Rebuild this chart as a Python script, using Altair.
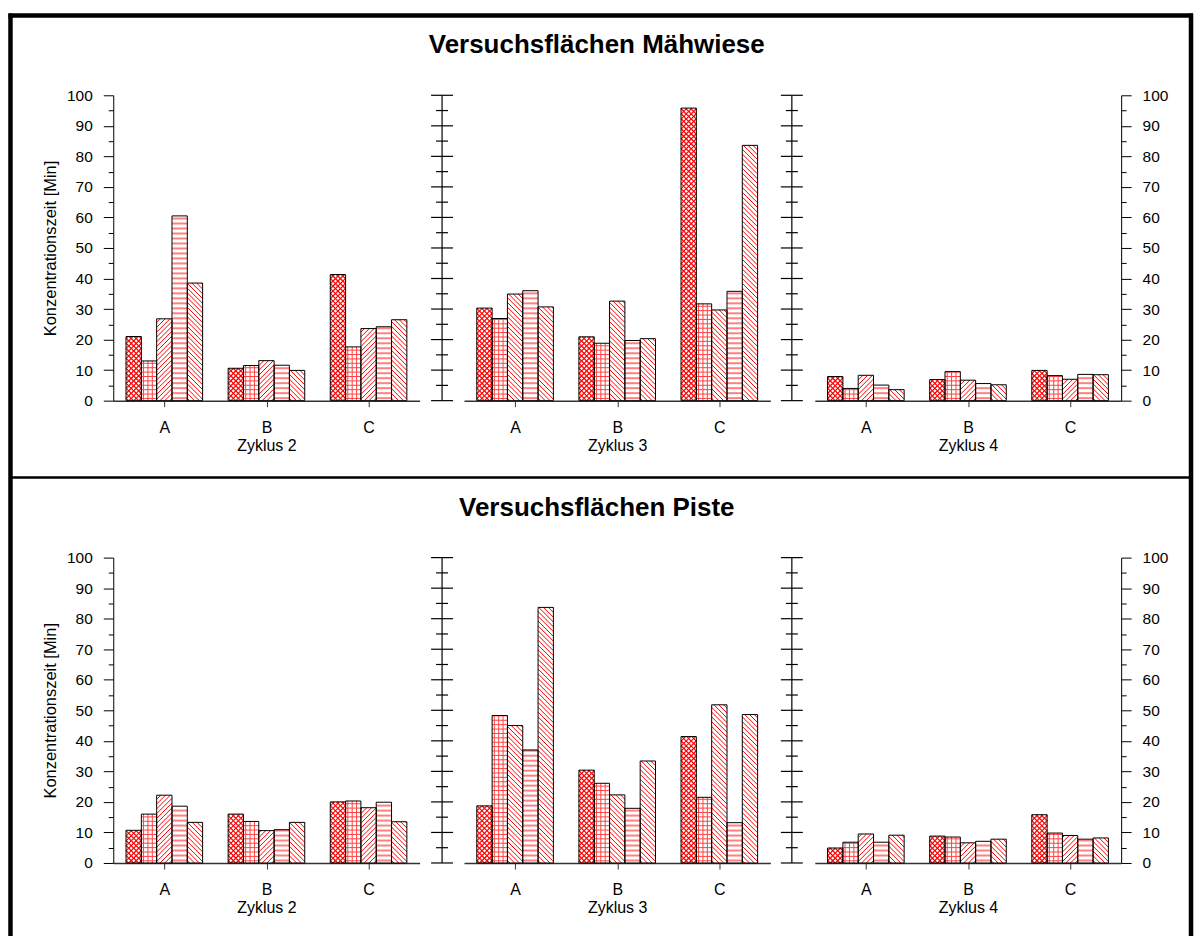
import altair as alt
import numpy as np
import pandas as pd

# Konzentrationszeit [Min] je Standort (A, B, C) und fünf Varianten
standorte = ["A", "B", "C"]
zyklen = ["Zyklus 2", "Zyklus 3", "Zyklus 4"]
flaechen = ["Versuchsflächen Mähwiese", "Versuchsflächen Piste"]

maehwiese_zyklus2 = [[21.0, 13.0, 26.8, 60.5, 38.5],
                     [10.6, 11.5, 13.1, 11.6, 9.9],
                     [41.3, 17.6, 23.6, 24.2, 26.5]]
maehwiese_zyklus3 = [[30.3, 26.9, 34.9, 36.0, 30.7],
                     [20.9, 18.8, 32.6, 19.7, 20.3],
                     [95.8, 31.7, 29.7, 35.8, 83.6]]
maehwiese_zyklus4 = [[7.9, 4.0, 8.3, 5.1, 3.6],
                     [6.9, 9.5, 6.7, 5.6, 5.2],
                     [9.9, 8.2, 7.0, 8.6, 8.5]]
piste_zyklus2 = [[10.7, 16.0, 22.2, 18.6, 13.3],
                 [16.0, 13.6, 10.6, 10.9, 13.3],
                 [20.0, 20.3, 18.1, 19.9, 13.5]]
piste_zyklus3 = [[18.7, 48.3, 45.0, 37.0, 83.7],
                 [30.4, 26.1, 22.3, 17.9, 33.4],
                 [41.4, 21.5, 51.8, 13.2, 48.6]]
piste_zyklus4 = [[4.9, 6.8, 9.5, 6.8, 9.1],
                 [8.8, 8.5, 6.6, 7.1, 7.8],
                 [15.8, 9.8, 9.0, 7.8, 8.2]]

y_ticks = list(range(0, 101, 5))

# Schraffur je Variante
muster_standard = ["kreuz", "gitter", "diag_auf", "quer", "diag_ab"]
muster_zyklus3 = ["kreuz", "gitter", "diag_ab", "quer", "diag_ab"]

FONT = "Liberation Sans"
BREITE = 307          # Breite eines Diagramms in px
HOEHE = 306           # Höhe eines Diagramms in px
BALKEN = 0.15         # Balkenbreite in Einheiten der x-Skala
RAND = 0.125          # Abstand vom Gruppenanfang zum ersten Balken
PX_X = BREITE / 3
PX_Y = HOEHE / 100

STIL = {
    "kreuz": ("#ff0000", 1.2),
    "gitter": ("#ff4040", 1.0),
    "diag_auf": ("#ff0000", 1.0),
    "diag_ab": ("#ff0000", 1.0),
    "quer": ("#ff8080", 2.0),
}


def schraffur(x0, wert, muster):
    """Linien der Schraffur eines Balkens (in Skaleneinheiten)."""
    w = BALKEN * PX_X
    h = wert * PX_Y
    seg = []

    def diag_auf(p):
        for c in np.arange(-w + p / 2, h, p):
            xa, xb = max(0.0, -c), min(w, h - c)
            if xb > xa:
                seg.append((xa, xa + c, xb, xb + c))

    def diag_ab(p):
        for c in np.arange(p / 2, h + w, p):
            xa, xb = max(0.0, c - h), min(w, c)
            if xb > xa:
                seg.append((xa, c - xa, xb, c - xb))

    def quer(p):
        for yy in np.arange(p / 2, h, p):
            seg.append((0.0, yy, w, yy))

    def senkrecht(p):
        for xx in np.arange(p / 2, w, p):
            seg.append((xx, 0.0, xx, h))

    if muster == "kreuz":
        diag_auf(5.0)
        diag_ab(5.0)
    elif muster == "gitter":
        quer(4.4)
        senkrecht(4.4)
    elif muster == "diag_auf":
        diag_auf(4.8)
    elif muster == "diag_ab":
        diag_ab(4.8)
    elif muster == "quer":
        quer(5.0)
    farbe, staerke = STIL[muster]
    return [dict(hx=x0 + a / PX_X, hy=b / PX_Y, hx2=x0 + c / PX_X, hy2=d / PX_Y,
                 farbe=farbe, staerke=staerke) for a, b, c, d in seg]


x_scale = alt.Scale(domain=[0, 3], nice=False, zero=False)
y_scale = alt.Scale(domain=[0, 100], nice=False)
tick_groesse = {"condition": {"test": "datum.value % 10 === 0", "value": 10}, "value": 5}
nur_zehner = "datum.value % 10 === 0 ? datum.label : ''"
label_abc = "[" + ",".join(f"'{s}'" for s in standorte) + "][floor(datum.value)]"


def panel(werte, zyklus, muster, position, titel=None, rahmen=False):
    balken, linien = [], []
    for g, gruppe in enumerate(werte):
        for k, v in enumerate(gruppe):
            x0 = g + RAND + k * BALKEN
            balken.append(dict(standort=standorte[g], variante=k + 1,
                               x0=x0, x1=x0 + BALKEN, wert=v, basis=0.0))
            linien += schraffur(x0, v, muster[k])
    df_b = pd.DataFrame(balken)
    df_l = pd.DataFrame(linien)

    x_axis = alt.Axis(values=[0.5, 1.5, 2.5], labelExpr=label_abc, title=zyklus,
                      tickSize=6, labelPadding=13, titlePadding=2, labelAngle=0,
                      labelFontSize=16, titleFontSize=16,
                      domainColor="#333333", domainWidth=1.5, tickColor="#333333")
    if position == "links":
        y_axis = alt.Axis(orient="left", values=y_ticks, tickSize=tick_groesse,
                          labelExpr=nur_zehner, labelPadding=11, labelFontSize=15.5,
                          title="Konzentrationszeit [Min]", titleFontSize=16.5, titlePadding=8)
    elif position == "rechts":
        y_axis = alt.Axis(orient="right", values=y_ticks, tickSize=tick_groesse,
                          labelExpr=nur_zehner, labelPadding=11, labelFontSize=15.5,
                          title=None)
    else:
        y_axis = None

    # identische Achsendefinition in allen Ebenen, damit sie zusammengeführt werden
    def xk(feld):
        return alt.X(feld, scale=x_scale, axis=x_axis)

    def yk(feld):
        return alt.Y(feld, scale=y_scale, axis=y_axis)

    grund = alt.Chart(df_b).mark_rect(fill="white").encode(
        x=xk("x0:Q"), x2="x1:Q", y=yk("wert:Q"), y2="basis:Q")
    schraff = alt.Chart(df_l).mark_rule().encode(
        x=xk("hx:Q"), x2="hx2:Q", y=yk("hy:Q"), y2="hy2:Q",
        color=alt.Color("farbe:N", scale=None),
        strokeWidth=alt.StrokeWidth("staerke:Q", scale=None))
    umriss = alt.Chart(df_b).mark_rect(fillOpacity=0, stroke="black", strokeWidth=1).encode(
        x=xk("x0:Q"), x2="x1:Q", y=yk("wert:Q"), y2="basis:Q")
    ebenen = [grund, schraff, umriss]

    # frei stehende y-Achse mit beidseitigen Teilstrichen
    if position in ("mitte", "rechts"):
        off = -22 if position == "mitte" else -23
        df_t = pd.DataFrame({"wert": y_ticks})
        df_t["haupt"] = df_t["wert"] % 10 == 0
        linie = alt.Chart(pd.DataFrame({"von": [y_ticks[0]], "bis": [y_ticks[-1]]})).mark_rule(
            color="black", strokeWidth=1.2).encode(
            x=alt.value(off), y=yk("von:Q"), y2="bis:Q")
        haupt = alt.Chart(df_t[df_t["haupt"]]).mark_rule(color="black", strokeWidth=1.2).encode(
            x=alt.value(off - 11), x2=alt.value(off + 11), y=yk("wert:Q"))
        neben = alt.Chart(df_t[~df_t["haupt"]]).mark_rule(color="black", strokeWidth=1.2).encode(
            x=alt.value(off - 6), x2=alt.value(off + 6), y=yk("wert:Q"))
        ebenen += [linie, haupt, neben]

    if titel is not None:
        ebenen.append(alt.Chart(pd.DataFrame({"titel": [titel]})).mark_text(
            font=FONT, fontSize=26, fontWeight="bold", color="black",
            align="center", baseline="middle").encode(
            text="titel:N", x=alt.value(133), y=alt.value(-50)))

    if rahmen:
        df_r = pd.DataFrame({"r": [0]})
        oben = alt.Chart(df_r).mark_rule(color="black", strokeWidth=4.5).encode(
            x=alt.value(-105), x2=alt.value(1082), y=alt.value(-80))
        links = alt.Chart(df_r).mark_rule(color="black", strokeWidth=4.5).encode(
            x=alt.value(-103), y=alt.value(-82), y2=alt.value(845))
        rechts = alt.Chart(df_r).mark_rule(color="black", strokeWidth=4.5).encode(
            x=alt.value(1080), y=alt.value(-82), y2=alt.value(845))
        trenner = alt.Chart(df_r).mark_rule(color="black", strokeWidth=2.5).encode(
            x=alt.value(-103), x2=alt.value(1080), y=alt.value(383))
        ebenen += [oben, links, rechts, trenner]

    return alt.layer(*ebenen).properties(width=BREITE, height=HOEHE)


zeilen = [
    (flaechen[0], [maehwiese_zyklus2, maehwiese_zyklus3, maehwiese_zyklus4]),
    (flaechen[1], [piste_zyklus2, piste_zyklus3, piste_zyklus4]),
]
positionen = ["links", "mitte", "rechts"]

panels = []
for z, (flaeche, reihen) in enumerate(zeilen):
    for i, werte in enumerate(reihen):
        muster = muster_zyklus3 if zyklen[i] == "Zyklus 3" else muster_standard
        panels.append(panel(werte, zyklen[i], muster, positionen[i],
                            titel=flaeche if i == 1 else None,
                            rahmen=(z == 0 and i == 0)))

chart = alt.concat(*panels, columns=3, spacing={"row": 157.3, "column": 44.5},
                   bounds="flush").properties(
    padding={"left": 5.5, "top": 9.5, "right": 0, "bottom": 0},
    background="white",
).configure_view(stroke=None).configure_axis(
    labelFont=FONT, titleFont=FONT, labelColor="black", titleColor="black",
    titleFontWeight="normal", domainColor="black", tickColor="black", grid=False,
)

chart.save("out.html", embed_options={"renderer": "svg", "actions": False})
